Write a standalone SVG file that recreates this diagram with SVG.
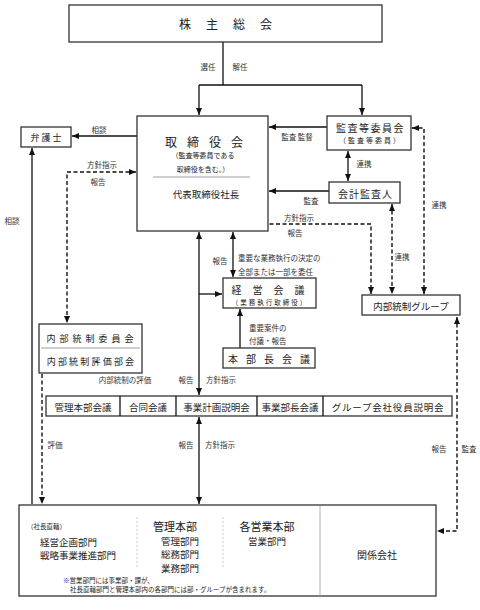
<svg xmlns="http://www.w3.org/2000/svg" width="480" height="610" viewBox="0 0 480 610">
<style>
text{font-family:"Noto Sans CJK JP","Noto Sans CJK SC",sans-serif;fill:#222;dominant-baseline:central}
.box{fill:#fff;stroke:#333;stroke-width:1.3}
.sep{stroke:#888;stroke-width:0.8;fill:none}
.dot{stroke:#bbb;stroke-width:0.8;stroke-dasharray:2,2;fill:none}
.ln{fill:none;stroke:#111;stroke-width:1.3}
.ds{fill:none;stroke:#111;stroke-width:1.4;stroke-dasharray:4,2.5}
.lb{font-size:7.5px;fill:#333}
.m{text-anchor:middle}
.s{text-anchor:start}
</style>
<defs>
<marker id="ah" viewBox="0 0 7 6" refX="7" refY="3" markerWidth="7" markerHeight="6" markerUnits="userSpaceOnUse" orient="auto-start-reverse">
<path d="M0,0 L7,3 L0,6 z" fill="#111"/>
</marker>
</defs>

<g id="connectors">
<path class="ln" d="M223,42 V85 M199,85 H362"/>
<path class="ln" d="M199,85 V115" marker-end="url(#ah)"/>
<path class="ln" d="M362,85 V115" marker-end="url(#ah)"/>
<path class="ln" d="M137,136 H72" marker-end="url(#ah)"/>
<path class="ln" d="M327,127 H269" marker-end="url(#ah)"/>
<path class="ln" d="M329,191 H269" marker-end="url(#ah)"/>
<path class="ln" d="M348,151 V181" marker-start="url(#ah)" marker-end="url(#ah)"/>
<path class="ds" d="M215,207 V224 H371 V294" marker-start="url(#ah)" marker-end="url(#ah)"/>
<path class="ds" d="M392,204 V294" marker-start="url(#ah)" marker-end="url(#ah)"/>
<path class="ds" d="M412,128 H424 V294" marker-start="url(#ah)" marker-end="url(#ah)"/>
<path class="ds" d="M136,172 H67 V323" marker-start="url(#ah)" marker-end="url(#ah)"/>
<path class="ln" d="M32,504 V148" marker-end="url(#ah)"/>
<path class="ds" d="M42,374 V504" marker-end="url(#ah)"/>
<path class="ln" d="M199,232 V395" marker-start="url(#ah)" marker-end="url(#ah)"/>
<path class="ln" d="M199,294 H222" marker-end="url(#ah)"/>
<path class="ln" d="M233,232 V277" marker-start="url(#ah)" marker-end="url(#ah)"/>
<path class="ln" d="M240,348 V309" marker-end="url(#ah)"/>
<path class="ln" d="M199,417 V504" marker-start="url(#ah)" marker-end="url(#ah)"/>
<path class="ds" d="M457,317 V531 H437" marker-start="url(#ah)" marker-end="url(#ah)"/>
</g>

<g id="labels">
<text class="lb m" x="208" y="66">選任</text>
<text class="lb m" x="240" y="66">解任</text>
<text class="lb m" x="99" y="129">相談</text>
<text class="lb m" x="297" y="136">監査 監督</text>
<text class="lb m" x="364" y="163">連携</text>
<text class="lb m" x="311" y="200">監査</text>
<text class="lb m" x="102" y="164">方針指示</text>
<text class="lb m" x="98" y="181">報告</text>
<text class="lb m" x="299" y="217">方針指示</text>
<text class="lb m" x="295" y="232">報告</text>
<text class="lb m" x="439" y="204">連携</text>
<text class="lb m" x="402" y="256">連携</text>
<text class="lb m" x="12" y="220">相談</text>
<text class="lb m" x="220" y="260">報告</text>
<text class="lb s" x="238" y="257">重要な業務執行の決定の</text>
<text class="lb s" x="238" y="271">全部または一部を委任</text>
<text class="lb s" x="249" y="327">重要案件の</text>
<text class="lb s" x="249" y="340">付議・報告</text>
<text class="lb m" x="125" y="379">内部統制の評価</text>
<text class="lb m" x="186" y="379">報告</text>
<text class="lb m" x="221" y="379">方針指示</text>
<text class="lb m" x="55" y="444">評価</text>
<text class="lb m" x="186" y="444">報告</text>
<text class="lb m" x="220" y="444">方針指示</text>
<text class="lb m" x="439" y="448">報告</text>
<text class="lb m" x="469" y="448">監査</text>
</g>

<g id="shareholders">
<rect class="box" x="69" y="5" width="313" height="37"/>
<text class="m" x="233" y="23" font-size="12" letter-spacing="15">株主総会</text>
</g>

<g id="board">
<rect class="box" x="137" y="116" width="131" height="115"/>
<text class="m" x="209" y="141" font-size="12" letter-spacing="10">取締役会</text>
<text class="m" x="203" y="155" font-size="7">（監査等委員である</text>
<text class="m" x="203" y="169" font-size="7">取締役を含む。）</text>
<line class="sep" x1="153" y1="177" x2="250" y2="177"/>
<text class="m" x="206" y="194" font-size="9.5">代表取締役社長</text>
</g>

<g id="lawyer">
<rect class="box" x="21" y="127" width="50" height="20"/>
<text class="m" x="47" y="137" font-size="9" letter-spacing="2">弁護士</text>
</g>

<g id="audit-committee">
<rect class="box" x="327" y="116" width="84" height="34"/>
<text class="m" x="370.5" y="127" font-size="10" letter-spacing="1.5">監査等委員会</text>
<text class="m" x="370.5" y="140" font-size="7" letter-spacing="2">（監査等委員）</text>
</g>

<g id="accounting-auditor">
<rect class="box" x="329" y="182" width="71" height="21"/>
<text class="m" x="365.5" y="193" font-size="10" letter-spacing="1">会計監査人</text>
</g>

<g id="internal-control-group">
<rect class="box" x="362" y="295" width="98" height="20"/>
<text class="m" x="411" y="305.5" font-size="9.5">内部統制グループ</text>
</g>

<g id="internal-control-committee">
<rect class="box" x="39" y="324" width="103" height="49"/>
<text class="m" x="92" y="338" font-size="9" letter-spacing="4">内部統制委員会</text>
<line class="sep" x1="41" y1="348" x2="140" y2="348"/>
<text class="m" x="91.5" y="361" font-size="9" letter-spacing="2.2">内部統制評価部会</text>
</g>

<g id="management-meeting">
<rect class="box" x="223" y="278" width="93" height="30"/>
<text class="m" x="273.5" y="289.5" font-size="10" letter-spacing="11">経営会議</text>
<text class="m" x="270" y="301.5" font-size="6.5" letter-spacing="2">（業務執行取締役）</text>
</g>

<g id="division-heads-meeting">
<rect class="box" x="223" y="348" width="92" height="20"/>
<text class="m" x="273" y="358" font-size="10" letter-spacing="8">本部長会議</text>
</g>

<g id="meetings">
<rect class="box" x="46" y="396" width="406" height="20"/>
<line class="ln" x1="120" y1="396" x2="120" y2="416"/>
<line class="ln" x1="176" y1="396" x2="176" y2="416"/>
<line class="ln" x1="257" y1="396" x2="257" y2="416"/>
<line class="ln" x1="323" y1="396" x2="323" y2="416"/>
<text class="m" x="83" y="406.5" font-size="9.5">管理本部会議</text>
<text class="m" x="148" y="406.5" font-size="9.5">合同会議</text>
<text class="m" x="216.5" y="406.5" font-size="9.5">事業計画説明会</text>
<text class="m" x="290" y="406.5" font-size="9.5">事業部長会議</text>
<text class="m" x="388" y="406.5" font-size="9.5" letter-spacing="0.8">グループ会社役員説明会</text>
</g>

<g id="organization">
<rect class="box" x="19" y="505" width="417" height="91"/>
<line x1="320" y1="505" x2="320" y2="596" stroke="#999" stroke-width="0.8"/>
<line class="dot" x1="137" y1="517" x2="137" y2="568"/>
<line class="dot" x1="223" y1="517" x2="223" y2="568"/>
<text class="s" x="27" y="526" font-size="6.5">（社長直轄）</text>
<text class="s" x="40" y="542" font-size="9.5">経営企画部門</text>
<text class="s" x="40" y="555" font-size="9.5">戦略事業推進部門</text>
<text class="m" x="175" y="526" font-size="11">管理本部</text>
<text class="m" x="180" y="541" font-size="9.5">管理部門</text>
<text class="m" x="180" y="554" font-size="9.5">総務部門</text>
<text class="m" x="180" y="568" font-size="9.5">業務部門</text>
<text class="m" x="267" y="526" font-size="11">各営業本部</text>
<text class="m" x="267" y="541" font-size="9.5">営業部門</text>
<text class="m" x="377" y="554" font-size="10">関係会社</text>
<text class="s" x="63" y="580" font-size="6.5">※営業部門には事業部・課が、</text>
<text class="s" x="70" y="589" font-size="6.5">社長直轄部門と管理本部内の各部門には部・グループが含まれます。</text>
</g>
</svg>
